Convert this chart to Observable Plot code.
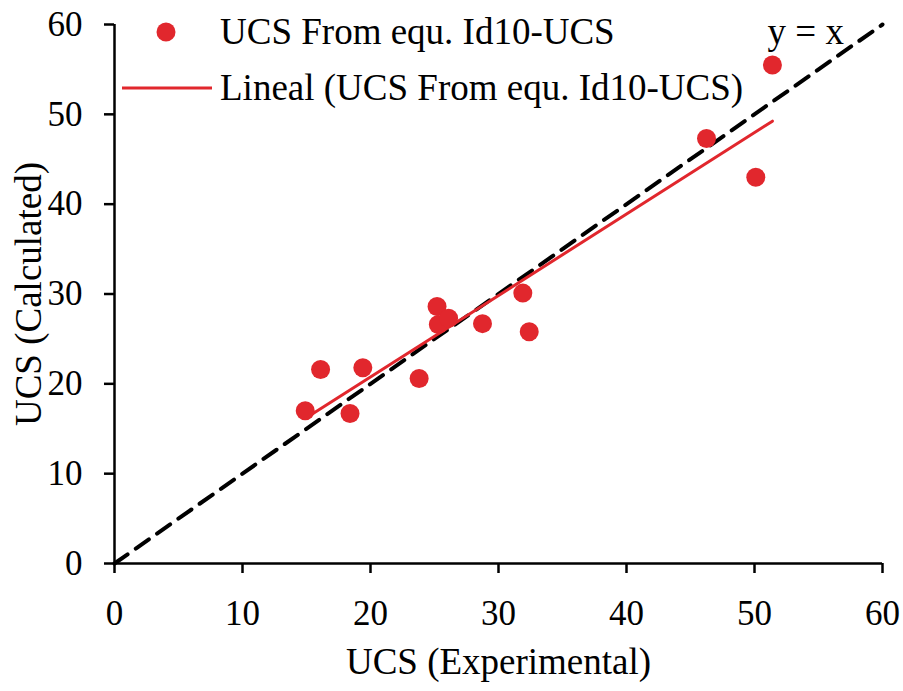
<!DOCTYPE html>
<html>
<head>
<meta charset="utf-8">
<script src="https://cdn.jsdelivr.net/npm/d3@7"></script>
<script src="https://cdn.jsdelivr.net/npm/@observablehq/plot@0.6"></script>
<style>
  html, body { margin: 0; padding: 0; background: #fff; }
  #chart { width: 903px; height: 691px; }
</style>
</head>
<body>
<div id="chart"></div>
<script>
// Data
const ucsExperimental = [14.9, 16.1, 18.4, 19.4, 23.8, 25.2, 25.3, 26.1, 28.75, 31.9, 32.4, 46.25, 50.1, 51.4];
const ucsCalculated   = [17.0, 21.6, 16.7, 21.8, 20.6, 28.6, 26.6, 27.3, 26.7, 30.1, 25.8, 47.3, 43.0, 55.5];
const identityX = [0, 60];
const identityLabel = [{x: 54.0, y: 59.2, text: "y = x"}];
const xTicks = [0, 10, 20, 30, 40, 50, 60];
const yTicks = [0, 10, 20, 30, 40, 50, 60];
const seriesName = "UCS From equ. Id10-UCS";
const fitName = "Lineal (UCS From equ. Id10-UCS)";
const xLabel = "UCS (Experimental)";
const yLabel = "UCS (Calculated)";

const points = ucsExperimental.map((x, i) => ({x, y: ucsCalculated[i]}));
const identity = identityX.map(v => ({x: v, y: v}));

const RED = "#e1272d";
const FONT = "'Liberation Serif', 'Times New Roman', serif";
const FS = 37;      // legend, labels
const TFS = 35;     // tick labels

function legendMark(index, scales, values, dims) {
  const g = d3.create("svg:g").attr("text-anchor", "start");
  const x0 = dims.marginLeft, y0 = dims.marginTop;
  g.append("circle").attr("cx", x0 + 52).attr("cy", y0 + 8).attr("r", 9.5).attr("fill", RED);
  g.append("text").attr("x", x0 + 106).attr("y", y0 + 8).attr("dy", "0.32em")
    .attr("font-size", FS).attr("fill", "#000").text(seriesName);
  g.append("line").attr("x1", x0 + 8).attr("x2", x0 + 98).attr("y1", y0 + 64).attr("y2", y0 + 64)
    .attr("stroke", RED).attr("stroke-width", 3);
  g.append("text").attr("x", x0 + 106).attr("y", y0 + 64).attr("dy", "0.32em")
    .attr("font-size", FS).attr("fill", "#000").text(fitName);
  return g.node();
}

const chart = Plot.plot({
  width: 903,
  height: 691,
  marginLeft: 114,
  marginRight: 21,
  marginTop: 24,
  marginBottom: 128,
  style: {fontFamily: FONT, fontSize: FS + "px", color: "#000", background: "#fff", overflow: "visible"},
  x: {domain: [0, 60]},
  y: {domain: [0, 60]},
  marks: [
    Plot.axisX({ticks: xTicks, tickSize: 10, tickPadding: 27, fontSize: TFS, label: null, strokeWidth: 2.5}),
    Plot.axisY({ticks: yTicks, tickSize: 10, tickPadding: 22, fontSize: TFS, label: null, strokeWidth: 2.5}),
    Plot.ruleX([0], {stroke: "#000", strokeWidth: 2.5}),
    Plot.ruleY([0], {stroke: "#000", strokeWidth: 2.5}),
    Plot.line(identity, {x: "x", y: "y", stroke: "#000", strokeWidth: 4, strokeDasharray: "16,10"}),
    Plot.linearRegressionY(points, {x: "x", y: "y", stroke: RED, strokeWidth: 3, ci: 0}),
    Plot.dot(points, {x: "x", y: "y", r: 9.5, fill: RED, stroke: "none"}),
    Plot.text(identityLabel, {x: "x", y: "y", text: "text", fontSize: FS, fill: "#000"}),
    Plot.text([xLabel], {frameAnchor: "bottom", dy: 99, lineAnchor: "middle", textAnchor: "middle", text: d => d, fontSize: FS, fill: "#000"}),
    Plot.text([yLabel], {frameAnchor: "left", dx: -85, rotate: -90, textAnchor: "middle", lineAnchor: "middle", text: d => d, fontSize: FS, fill: "#000"}),
    legendMark
  ]
});
document.getElementById("chart").appendChild(chart);
</script>
</body>
</html>
